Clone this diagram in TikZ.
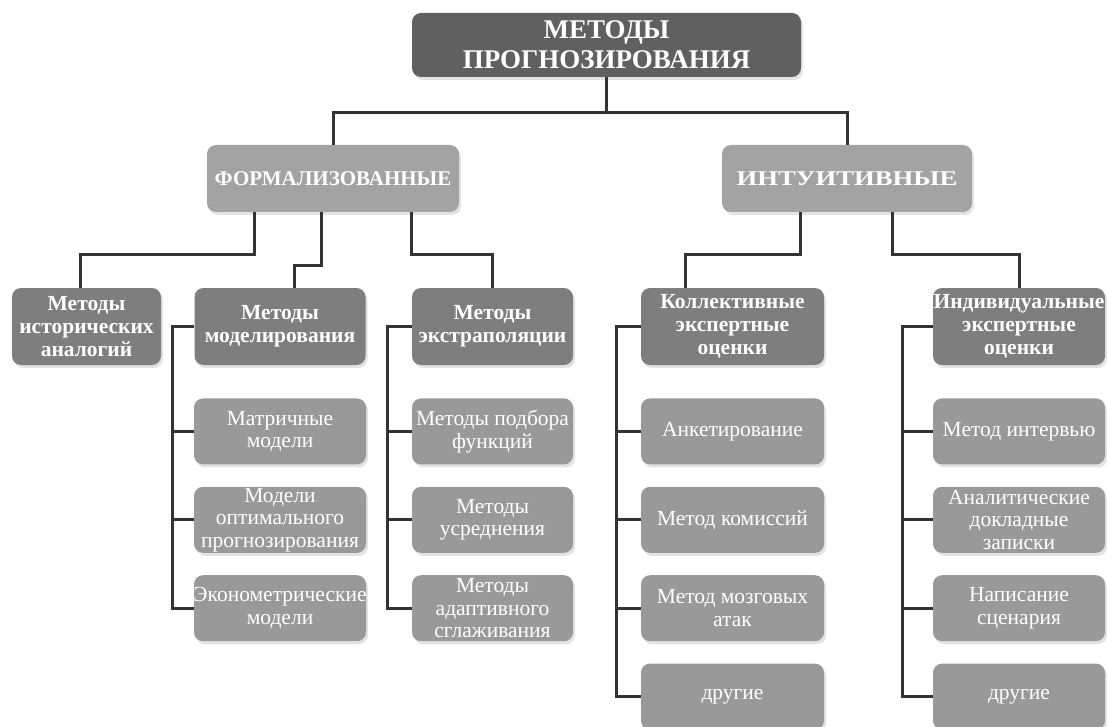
\documentclass[tikz,border=0pt]{standalone}
\usepackage{fontspec}
\setmainfont{Liberation Serif}
\usepackage{tikz}
\usetikzlibrary{positioning,shadows}
\definecolor{topgray}{HTML}{606060}
\definecolor{midgray}{HTML}{7E7E7E}
\definecolor{boxgray}{HTML}{999999}
\definecolor{linegray}{HTML}{333333}
\newcommand{\spill}[1]{\makebox[0pt]{#1}}

\begin{document}
\begin{tikzpicture}[x=1pt,y=-1pt,
		box/.style={shape=rectangle,rounded corners=9pt,fill=boxgray,text=white,align=center,inner sep=0pt,drop shadow={shadow xshift=2pt,shadow yshift=-3pt,fill=black!22}},
		leaf/.style={box,minimum height=66pt,font=\fontsize{21.5}{22.5}\selectfont},
		group/.style={box,fill=midgray,minimum height=77pt,font=\bfseries\fontsize{21.5}{23}\selectfont},
		branch/.style={box,fill=boxgray!90!white,minimum height=67pt,font=\bfseries\fontsize{21}{22}\selectfont},
		link/.style={draw=linegray,line width=3pt}]
		\useasboundingbox (0,0) rectangle (1107,727);
		\node(root) [box,fill=topgray,minimum width=389pt,minimum height=64pt,font=\bfseries\fontsize{27}{30}\selectfont] at (606.5,45) {МЕТОДЫ\\ПРОГНОЗИРОВАНИЯ};
		\node(form) [branch,minimum width=252pt] at (333,178.5) {ФОРМАЛИЗОВАННЫЕ};
		\node(intu) [branch,minimum width=250pt] at (847,178.5) {\scalebox{1.27}[1]{ИНТУИТИВНЫЕ}};
		% third level
		\node(hist) [group,minimum width=149pt] at (86.5,326.5) {Методы\\исторических\\аналогий};
		\node(model) [group,minimum width=171pt] at (280,326.5) {Методы\\моделирования};
		\node(extra) [group,minimum width=161pt] at (492.5,326.5) {Методы\\экстраполяции};
		\node(coll) [group,minimum width=183pt] at (732.5,326.5) {Коллективные\\экспертные\\оценки};
		\node(indiv) [group,minimum width=172pt] at (1019,326.5) {\spill{Индивидуальные}\\экспертные\\оценки};
		% columns
		\node(m1) [leaf,below=33pt of model,minimum width=172pt] {Матричные\\модели};
		\node(m2) [leaf,below=22pt of m1,minimum width=172pt] {Модели\\оптимального\\прогнозирования};
		\node(m3) [leaf,below=22pt of m2,minimum width=172pt] {\spill{Эконометрические}\\модели};
		\node(e1) [leaf,below=33pt of extra,minimum width=161pt] {Методы подбора\\функций};
		\node(e2) [leaf,below=22pt of e1,minimum width=161pt] {Методы\\усреднения};
		\node(e3) [leaf,below=22pt of e2,minimum width=161pt] {Методы\\адаптивного\\сглаживания};
		\node(k1) [leaf,below=33pt of coll,minimum width=183pt] {Анкетирование};
		\node(k2) [leaf,below=22pt of k1,minimum width=183pt] {Метод комиссий};
		\node(k3) [leaf,below=22pt of k2,minimum width=183pt] {Метод мозговых\\атак};
		\node(k4) [leaf,below=22pt of k3,minimum width=183pt] {другие};
		\node(i1) [leaf,below=33pt of indiv,minimum width=172pt] {Метод интервью};
		\node(i2) [leaf,below=22pt of i1,minimum width=172pt] {Аналитические\\докладные\\записки};
		\node(i3) [leaf,below=22pt of i2,minimum width=172pt] {Написание\\сценария};
		\node(i4) [leaf,below=22pt of i3,minimum width=172pt] {другие};
		% connectors
		\draw[link] (root.south) -- ++(0,35) -| (form.north);
		\draw[link] (root.south) -- ++(0,35) -| (intu.north);
		\draw[link] ([xshift=-79pt]form.south) -- ++(0,42) -| ([xshift=-6pt]hist.north);
		\draw[link] ([xshift=-12pt]form.south) -- ++(0,53) -| ([xshift=14pt]model.north);
		\draw[link] ([xshift=78pt]form.south) -- ++(0,42) -| (extra.north);
		\draw[link] ([xshift=-47pt]intu.south) -- ++(0,42) -| ([xshift=-47pt]coll.north);
		\draw[link] ([xshift=45pt]intu.south) -- ++(0,42) -| (indiv.north);
		\draw[link] (model.west) -- ++(-22,0) coordinate(mbus) |- (m3.west);
		\draw[link] (extra.west) -- ++(-24,0) coordinate(ebus) |- (e3.west);
		\draw[link] (coll.west) -- ++(-24,0) coordinate(kbus) |- (k4.west);
		\draw[link] (indiv.west) -- ++(-30,0) coordinate(ibus) |- (i4.west);
		\foreach \n in {m1,m2} \draw[link] (mbus |- \n.west) -- (\n.west);
		\foreach \n in {e1,e2} \draw[link] (ebus |- \n.west) -- (\n.west);
		\foreach \n in {k1,k2,k3} \draw[link] (kbus |- \n.west) -- (\n.west);
		\foreach \n in {i1,i2,i3} \draw[link] (ibus |- \n.west) -- (\n.west);
	\end{tikzpicture}
\end{document}
